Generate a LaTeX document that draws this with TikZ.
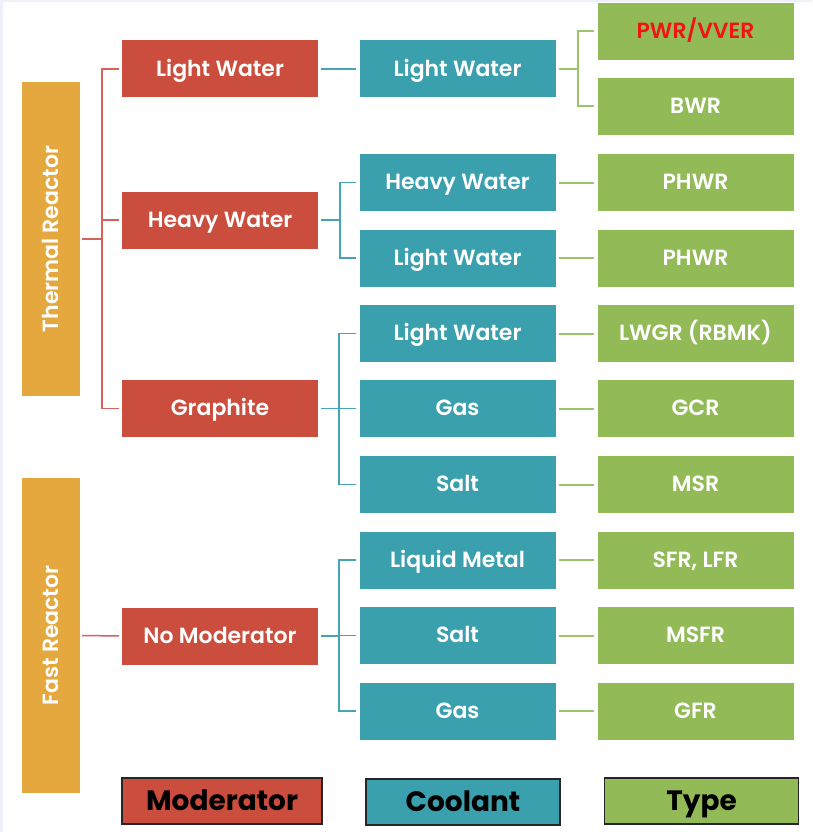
\documentclass[tikz,border=0pt]{standalone}
\usepackage{fontspec}
\setmainfont{Poppins}[BoldFont={Poppins SemiBold}]
\newfontfamily\keyfont{Poppins Bold}
\definecolor{orangefill}{RGB}{229,168,63}
\definecolor{modfill}{RGB}{203,77,61}
\definecolor{coolfill}{RGB}{59,160,174}
\definecolor{typefill}{RGB}{146,187,88}
\definecolor{modline}{RGB}{214,98,90}
\definecolor{coolline}{RGB}{70,165,178}
\definecolor{typeline}{RGB}{155,196,105}
\definecolor{hilite}{RGB}{240,20,20}
\definecolor{frame}{RGB}{238,240,250}
\tikzset{
  box/.style={rectangle, inner sep=0pt, minimum width=196pt, minimum height=57pt,
    text height=15.4pt, text depth=1pt,
    text=white, font=\bfseries\fontsize{22}{26}\selectfont},
  modbox/.style={box, fill=modfill},
  coolbox/.style={box, fill=coolfill},
  typebox/.style={box, fill=typefill},
  groupbox/.style={rectangle, inner sep=0pt, minimum width=58pt, fill=orangefill},
  grouplabel/.style={rotate=90, text=white, text height=15.4pt, text depth=0pt,
    font=\bfseries\fontsize{22}{26}\selectfont},
  keybox/.style={rectangle, inner sep=0pt, minimum height=46pt, draw=black!85,
    line width=1.5pt, text=black, text height=19.6pt, text depth=0pt,
    font=\keyfont\fontsize{28}{32}\selectfont},
  rlink/.style={draw=modline, line width=1.5pt},
  clink/.style={draw=coolline, line width=1.5pt},
  tlink/.style={draw=typeline, line width=2pt},
}
\begin{document}
\begin{tikzpicture}[x=1pt, y=-1pt]
\useasboundingbox (0,0) rectangle (812,832);
\fill[white] (0,0) rectangle (812,832);
\fill[frame] (0,0) rectangle (3,832);
\fill[frame] (0,0) rectangle (812,2);

% reactor groups
\node[groupbox, minimum height=314pt] (thermal) at (51,239) {};
\node[grouplabel] at (thermal.center) {Thermal Reactor};
\node[groupbox, minimum height=315pt] (fast) at (51,635.5) {};
\node[grouplabel] at (fast.center) {Fast Reactor};

% moderators
\node[modbox] (mlw) at (220,69) {Light Water};
\node[modbox] (mhw) at (220,220) {Heavy Water};
\node[modbox] (mgr) at (220,408.5) {Graphite};
\node[modbox] (mno) at (220,636) {No Moderator};

% coolants
\node[coolbox] (clw) at (457.5,69) {Light Water};
\node[coolbox] (chw) at (457.5,182.5) {Heavy Water};
\node[coolbox] (chl) at (457.5,258) {Light Water};
\node[coolbox] (cgl) at (457.5,333.5) {Light Water};
\node[coolbox] (cgg) at (457.5,408.5) {Gas};
\node[coolbox] (cgs) at (457.5,484.5) {Salt};
\node[coolbox] (cfm) at (457.5,560) {Liquid Metal};
\node[coolbox] (cfs) at (457.5,635.5) {Salt};
\node[coolbox] (cfg) at (457.5,711) {Gas};

% reactor types
\node[typebox, text=hilite] (pwr) at (695.5,31.5) {PWR/VVER};
\node[typebox] (bwr) at (695.5,106.5) {BWR};
\node[typebox] (phw1) at (695.5,182.5) {PHWR};
\node[typebox] (phw2) at (695.5,258) {PHWR};
\node[typebox] (lwgr) at (695.5,333.5) {LWGR (RBMK)};
\node[typebox] (gcr) at (695.5,408.5) {GCR};
\node[typebox] (msr) at (695.5,484.5) {MSR};
\node[typebox] (sfr) at (695.5,560) {SFR, LFR};
\node[typebox] (msfr) at (695.5,635.5) {MSFR};
\node[typebox] (gfr) at (695.5,711) {GFR};

% legend
\node[keybox, fill=modfill, minimum width=200pt] (kmod) at (222,801) {Moderator};
\node[keybox, fill=coolfill, minimum width=194pt] (kcool) at (463,802) {Coolant};
\node[keybox, fill=typefill, minimum width=194pt] (ktype) at (701.5,801) {Type};

% group -> moderator
\path[rlink, shorten <=2pt] (thermal.east) -- ++(22,0) coordinate (tj);
\foreach \m in {mlw,mhw,mgr} \path[rlink, shorten >=3pt] (tj) |- (\m.west);
\path[rlink, shorten <=2pt, shorten >=3pt] (fast.east) -- (mno.west);

% moderator -> coolant
\path[clink, shorten <=3pt, shorten >=3pt] (mlw.east) -- (clw.west);
\path[clink, shorten <=3pt] (mhw.east) -- ++(22,0) coordinate (hj);
\foreach \c in {chw,chl} \path[clink, shorten >=3pt] (hj) |- (\c.west);
\path[clink, shorten <=3pt] (mgr.east) -- ++(21,0) coordinate (gj);
\foreach \c in {cgl,cgg,cgs} \path[clink, shorten >=3pt] (gj) |- (\c.west);
\path[clink, shorten <=3pt] (mno.east) -- ++(21,0) coordinate (nj);
\foreach \c in {cfm,cfs,cfg} \path[clink, shorten >=3pt] (nj) |- (\c.west);

% coolant -> type
\path[tlink, shorten <=3pt] (clw.east) -- ++(22,0) coordinate (lj);
\foreach \t in {pwr,bwr} \path[tlink, shorten >=3pt] (lj) |- (\t.west);
\path[tlink, shorten <=3pt, shorten >=3pt] (chw.east) -- (phw1.west);
\path[tlink, shorten <=3pt, shorten >=3pt] (chl.east) -- (phw2.west);
\path[tlink, shorten <=3pt, shorten >=3pt] (cgl.east) -- (lwgr.west);
\path[tlink, shorten <=3pt, shorten >=3pt] (cgg.east) -- (gcr.west);
\path[tlink, shorten <=3pt, shorten >=3pt] (cgs.east) -- (msr.west);
\path[tlink, shorten <=3pt, shorten >=3pt] (cfm.east) -- (sfr.west);
\path[tlink, shorten <=3pt, shorten >=3pt] (cfs.east) -- (msfr.west);
\path[tlink, shorten <=3pt, shorten >=3pt] (cfg.east) -- (gfr.west);
\end{tikzpicture}
\end{document}
